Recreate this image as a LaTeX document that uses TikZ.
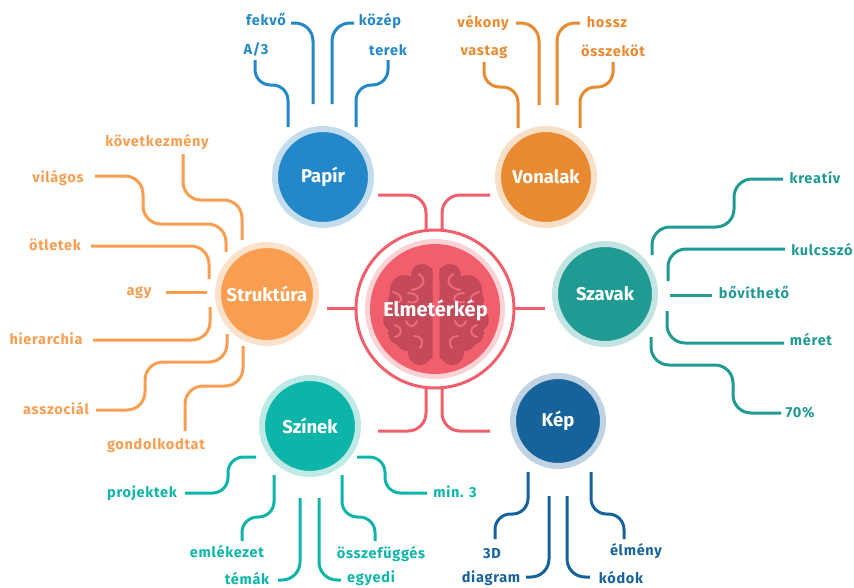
\documentclass[tikz,border=0pt]{standalone}
\usepackage{fontspec}
\setmainfont{Fira Sans}
\newfontfamily\leaffont[LetterSpace=5]{Fira Sans}
\definecolor{cRed}{HTML}{F25F6C}\definecolor{cRedP}{HTML}{FBD3D7}\definecolor{cBrain}{HTML}{C44A5A}\definecolor{cCurl}{HTML}{F0697A}
\definecolor{cPap}{HTML}{2388C9}\definecolor{cPapP}{HTML}{C3DDEF}
\definecolor{cVon}{HTML}{E98A31}\definecolor{cVonP}{HTML}{F7DFC8}
\definecolor{cStr}{HTML}{F99D50}\definecolor{cStrP}{HTML}{FCE2CD}
\definecolor{cSza}{HTML}{209B94}\definecolor{cSzaP}{HTML}{C4E4E2}
\definecolor{cSzi}{HTML}{0DB5A9}\definecolor{cSziP}{HTML}{BFE9E5}
\definecolor{cKep}{HTML}{16639B}\definecolor{cKepP}{HTML}{C0D3E3}
\tikzset{
 leaf/.style={font=\leaffont\bfseries\fontsize{14.5}{16}\selectfont, inner sep=0pt, anchor=base},
 wire/.style={line width=3pt, rounded corners=18pt},
 snug/.style={line width=3pt, rounded corners=15.5pt},
 hub/.style={circle, line width=6pt, minimum size=#1, inner sep=0pt, text=white, font=\bfseries\fontsize{18.5}{21}\selectfont},
}
\begin{document}
\begin{tikzpicture}[x=1pt,y=-1pt]
\useasboundingbox (0,0) rectangle (854,587);
% central circle
\node[circle, fill=cRedP, minimum size=140pt, inner sep=0pt] (ctr) at (435,309) {};
\fill[cRed] (ctr.center) circle (65);
\draw[cRed, line width=3pt] (ctr.center) circle (79);
% brain
\foreach \s in {1,-1}{
 \begin{scope}[shift={(436,0)}, xscale=\s]
  \fill[cBrain] (3.5,268) -- (15,268) -- (40,290) -- (48,320) -- (40,340) -- (22,355) -- (12,362) -- (3.5,358) -- cycle;
  \fill[cBrain] (14,275) circle (11) (31,290) circle (15) (36,300) circle (12) (41,320) circle (12) (36,333) circle (12) (29,340) circle (11) (16,353) circle (12) (9,300) circle (6);
  \draw[cCurl, line width=2pt, line cap=round]
   (17,274) .. controls (11,278) and (9,287) .. (24,290)
   (28,293) .. controls (15,293) and (15,305) .. (28,302)
   (43,292) .. controls (33,295) and (33,302) .. (38,302)
   (30,321) .. controls (27,328) and (22,328) .. (19,321)
   (41,325) .. controls (33,328) and (33,335) .. (41,337)
   (22,336) .. controls (13,337) and (12,342) .. (16,348);
 \end{scope}
}
\node[text=white, font=\bfseries\fontsize{20}{23}\selectfont, inner sep=0pt, anchor=base] (ctrl) at (435.5,316) {Elmetérkép};
% hubs
\node[hub=96pt, fill=cPap, draw=cPapP] (pap) at (323,177) {Papír};
\node[hub=96pt, fill=cVon, draw=cVonP] (von) at (546,177) {Vonalak};
\node[hub=98pt, fill=cStr, draw=cStrP] (str) at (267,294) {Struktúra};
\node[hub=100pt, fill=cSza, draw=cSzaP] (sza) at (605,294) {Szavak};
\node[hub=96pt, fill=cSzi, draw=cSziP] (szi) at (310,426) {Színek};
\node[hub=90pt, fill=cKep, draw=cKepP] (kep) at (558,421) {Kép};
% centre connectors
\coordinate (p1) at (378,195); \coordinate (p2) at (426,232);
\coordinate (v1) at (490,195); \coordinate (v2) at (442,232);
\coordinate (s1) at (327,308); \coordinate (s2) at (356,308);
\coordinate (z1) at (545,308); \coordinate (z2) at (514,308);
\coordinate (i1) at (378,431); \coordinate (i2) at (426,388);
\coordinate (k1) at (490,431); \coordinate (k2) at (442,388);
\draw[wire,cRed] (p1) -| (p2);
\draw[wire,cRed] (v1) -| (v2);
\draw[wire,cRed] (s1) -- (s2);
\draw[wire,cRed] (z1) -- (z2);
\draw[wire,cRed] (i1) -| (i2);
\draw[wire,cRed] (k1) -| (k2);
% Papir
\node[leaf,text=cPap] (fekvo) at (266,25) {fekvő};
\node[leaf,text=cPap] (kozep) at (380,25) {közép};
\node[leaf,text=cPap] (a3) at (256,54) {A/3};
\node[leaf,text=cPap] (terek) at (388,55) {terek};
\coordinate (a1) at (291,23); \coordinate (a2) at (313,104);
\coordinate (b1) at (354,23); \coordinate (b2) at (332,104);
\coordinate (c1) at (255,60); \coordinate (c2) at (288,127); \coordinate (c3) at (272,85);
\coordinate (d1) at (388,60); \coordinate (d2) at (356,127); \coordinate (d3) at (372,85);
\draw[wire,cPap] (a1) -| (a2);
\draw[wire,cPap] (b1) -| (b2);
\draw[snug,cPap] (c1) -- (c1|-c3) -- (c2|-c3) -- (c2);
\draw[snug,cPap] (d1) -- (d1|-d3) -- (d2|-d3) -- (d2);
% Vonalak
\node[leaf,text=cVon] (vekony) at (483,27) {vékony};
\node[leaf,text=cVon] (hossz) at (607,27) {hossz};
\node[leaf,text=cVon] (vastag) at (484,55) {vastag};
\node[leaf,text=cVon] (ossz) at (613,56) {összeköt};
\coordinate (e1) at (516,23); \coordinate (e2) at (539,105);
\coordinate (f1) at (580,23); \coordinate (f2) at (557,105);
\coordinate (g1) at (484,62); \coordinate (g2) at (518,128); \coordinate (g3) at (501,87);
\coordinate (h1) at (613,62); \coordinate (h2) at (580,128); \coordinate (h3) at (596,87);
\draw[wire,cVon] (e1) -| (e2);
\draw[wire,cVon] (f1) -| (f2);
\draw[snug,cVon] (g1) -- (g1|-g3) -- (g2|-g3) -- (g2);
\draw[snug,cVon] (h1) -- (h1|-h3) -- (h2|-h3) -- (h2);
% Struktura
\node[leaf,text=cStr] (kovet) at (157,146) {következmény};
\node[leaf,text=cStr] (vilag) at (58,182) {világos};
\node[leaf,text=cStr] (otlet) at (55,250) {ötletek};
\node[leaf,text=cStr] (agy) at (139,295) {agy};
\node[leaf,text=cStr] (hier) at (46,344) {hierarchia};
\node[leaf,text=cStr] (asszoc) at (56,414) {asszociál};
\node[leaf,text=cStr] (gond) at (156,449) {gondolkodtat};
\coordinate (m1) at (183,154); \coordinate (m2) at (242,240); \coordinate (m3) at (212,200);
\coordinate (n1) at (95,176); \coordinate (n2) at (226,252); \coordinate (n3) at (143,200); \coordinate (n4) at (185,224);
\coordinate (o1) at (91,246); \coordinate (o2) at (209,279);
\coordinate (q1) at (166,292); \coordinate (q2) at (207,292);
\coordinate (r1) at (93,340); \coordinate (r2) at (210,307);
\coordinate (t1) at (96,410); \coordinate (t2) at (227,334); \coordinate (t3) at (145,385); \coordinate (t4) at (185,362);
\coordinate (u1) at (243,346); \coordinate (u2) at (185,431); \coordinate (u3) at (214,386);
\draw[wire,cStr] (m1) -- (m1|-m3) -- (m2|-m3) -- (m2);
\draw[wire,cStr] (n1) -- (n3|-n1) -- (n3|-n4) -- (n2|-n4) -- (n2);
\draw[wire,cStr] (o1) -| (o2);
\draw[wire,cStr] (q1) -- (q2);
\draw[wire,cStr] (r1) -| (r2);
\draw[wire,cStr] (t1) -- (t3|-t1) -- (t3|-t4) -- (t2|-t4) -- (t2);
\draw[wire,cStr] (u1) -- (u1|-u3) -- (u2|-u3) -- (u2);
% Szavak
\node[leaf,text=cSza] (krea) at (815,183) {kreatív};
\node[leaf,text=cSza] (kulcs) at (822,255) {kulcsszó};
\node[leaf,text=cSza] (bov) at (754,298) {bővíthető};
\node[leaf,text=cSza] (meret) at (811,345) {méret};
\node[leaf,text=cSza] (szaz) at (800,417) {70\%};
\coordinate (aa1) at (783,179); \coordinate (aa2) at (652,255); \coordinate (aa3) at (734,200); \coordinate (aa4) at (695,227);
\coordinate (ab1) at (785,249); \coordinate (ab2) at (668,281);
\coordinate (ac1) at (670,295); \coordinate (ac2) at (712,295);
\coordinate (ad1) at (784,343); \coordinate (ad2) at (667,311);
\coordinate (ae1) at (781,413); \coordinate (ae2) at (651,337); \coordinate (ae3) at (733,388); \coordinate (ae4) at (695,365);
\draw[wire,cSza] (aa1) -- (aa3|-aa1) -- (aa3|-aa4) -- (aa2|-aa4) -- (aa2);
\draw[wire,cSza] (ab1) -| (ab2);
\draw[wire,cSza] (ac1) -- (ac2);
\draw[wire,cSza] (ad1) -| (ad2);
\draw[wire,cSza] (ae1) -- (ae3|-ae1) -- (ae3|-ae4) -- (ae2|-ae4) -- (ae2);
% Szinek
\node[leaf,text=cSzi] (proj) at (142,497) {projektek};
\node[leaf,text=cSzi] (min3) at (455,497) {min. 3};
\node[leaf,text=cSzi] (emlek) at (227,557) {emlékezet};
\node[leaf,text=cSzi] (ossze) at (381,558) {összefüggés};
\node[leaf,text=cSzi] (temak) at (247,584) {témák};
\node[leaf,text=cSzi] (egyedi) at (371,582.5) {egyedi};
\coordinate (ba1) at (185,493); \coordinate (ba2) at (256,457); \coordinate (ba3) at (228,475);
\coordinate (bb1) at (274,475); \coordinate (bb2) at (242,541); \coordinate (bb3) at (258,517);
\coordinate (bc1) at (300,498); \coordinate (bc2) at (278,580);
\coordinate (bd1) at (319,498); \coordinate (bd2) at (341,580);
\coordinate (be1) at (342,475); \coordinate (be2) at (375,541); \coordinate (be3) at (358,517);
\coordinate (bf1) at (427,493); \coordinate (bf2) at (357,457); \coordinate (bf3) at (385,475);
\draw[snug,cSzi] (ba1) -- (ba3|-ba1) -- (ba3|-ba2) -- (ba2);
\draw[snug,cSzi] (bb1) -- (bb1|-bb3) -- (bb2|-bb3) -- (bb2);
\draw[wire,cSzi] (bc1) |- (bc2);
\draw[wire,cSzi] (bd1) |- (bd2);
\draw[snug,cSzi] (be1) -- (be1|-be3) -- (be2|-be3) -- (be2);
\draw[snug,cSzi] (bf1) -- (bf3|-bf1) -- (bf3|-bf2) -- (bf2);
% Kep
\node[leaf,text=cKep] (dd) at (492,558) {3D};
\node[leaf,text=cKep] (diag) at (491,582) {diagram};
\node[leaf,text=cKep] (kodok) at (621,583) {kódok};
\node[leaf,text=cKep] (elm) at (636,555) {élmény};
\coordinate (ca1) at (528,472); \coordinate (ca2) at (495,539); \coordinate (ca3) at (511,514);
\coordinate (cb1) at (549,496); \coordinate (cb2) at (526,577);
\coordinate (cc1) at (567,496); \coordinate (cc2) at (590,577);
\coordinate (cd1) at (591,472); \coordinate (cd2) at (624,539); \coordinate (cd3) at (607,514);
\draw[snug,cKep] (ca1) -- (ca1|-ca3) -- (ca2|-ca3) -- (ca2);
\draw[wire,cKep] (cb1) |- (cb2);
\draw[wire,cKep] (cc1) |- (cc2);
\draw[snug,cKep] (cd1) -- (cd1|-cd3) -- (cd2|-cd3) -- (cd2);
\end{tikzpicture}
\end{document}
